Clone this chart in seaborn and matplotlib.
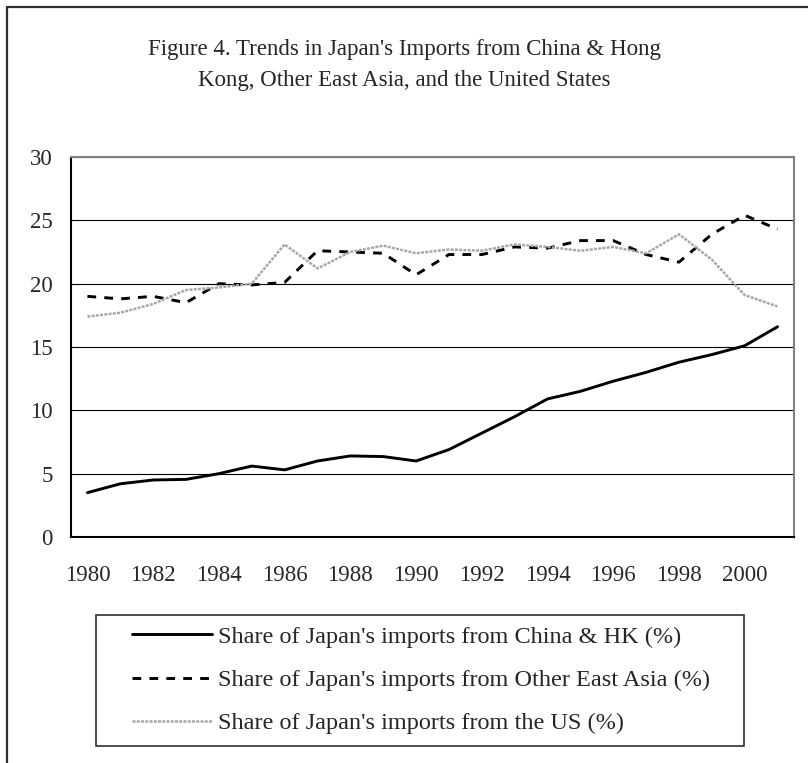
import numpy as np
import pandas as pd
import seaborn as sns
import matplotlib.pyplot as plt
from matplotlib.lines import Line2D
from matplotlib.patches import Rectangle
from matplotlib.ticker import MultipleLocator, FixedLocator

years = list(range(1980, 2002))
china_hk = [3.5, 4.2, 4.5, 4.55, 5.0, 5.6, 5.3, 6.0, 6.4, 6.35, 6.0, 6.9,
            8.2, 9.5, 10.9, 11.5, 12.3, 13.0, 13.8, 14.4, 15.1, 16.6]
other_east_asia = [19.0, 18.8, 19.0, 18.5, 20.0, 19.9, 20.1, 22.6, 22.5, 22.4, 20.7, 22.3,
                   22.3, 22.9, 22.8, 23.4, 23.4, 22.3, 21.7, 23.9, 25.4, 24.3]
united_states = [17.4, 17.7, 18.4, 19.5, 19.7, 20.0, 23.1, 21.2, 22.5, 23.0, 22.4, 22.7,
                 22.6, 23.1, 22.9, 22.6, 22.9, 22.4, 23.9, 21.9, 19.1, 18.2]
labels = [
    "Share of Japan's imports from China & HK (%)",
    "Share of Japan's imports from Other East Asia (%)",
    "Share of Japan's imports from the US (%)",
]

df = pd.DataFrame({"year": years, labels[0]: china_hk,
                   labels[1]: other_east_asia, labels[2]: united_states})
long = df.melt(id_vars="year", var_name="series", value_name="share")

sns.set_style("white")
plt.rcParams["font.family"] = ["Liberation Serif", "DejaVu Serif"]

W, H = 808, 763
fig = plt.figure(figsize=(W / 100, H / 100), dpi=100)
ax = fig.add_axes([71 / W, 1 - 537 / H, (794 - 71) / W, (537 - 157) / H])

styles = {
    labels[0]: dict(color="black", lw=2.1, ls="-"),
    labels[1]: dict(color="black", lw=2.1, ls=(0, (3, 2.8))),
    labels[2]: dict(color="#a8a8a8", lw=1.8, ls=(0, (1.2, 0.5))),
}
for name in labels:
    sub = long[long.series == name]
    sns.lineplot(data=sub, x="year", y="share", ax=ax, label=name,
                 legend=False, **styles[name])

ax.set_xlim(1979.5, 2001.5)
ax.set_ylim(0, 30)
ax.yaxis.set_major_locator(MultipleLocator(5))
ax.xaxis.set_major_locator(FixedLocator(years[::2]))
ax.xaxis.set_minor_locator(FixedLocator([y + 0.5 for y in years[:-1]]))
ax.set_xlabel("")
ax.set_ylabel("")
ax.grid(axis="y", color="black", lw=0.8)
ax.grid(axis="x", visible=False)
ax.tick_params(axis="x", which="major", length=0, pad=20, labelsize=16.5)
ax.tick_params(axis="x", which="minor", length=4, direction="in", width=0.8, color="black")
ax.tick_params(axis="y", which="major", length=0, pad=13, labelsize=16.5)
for side in ["top", "right"]:
    ax.spines[side].set_color("#808080")
    ax.spines[side].set_linewidth(1.5)
for side in ["left", "bottom"]:
    ax.spines[side].set_color("black")
    ax.spines[side].set_linewidth(1.5)

fig.text(0.5, 1 - 65 / H,
         "Figure 4. Trends in Japan's Imports from China & Hong\nKong, Other East Asia, and the United States",
         ha="center", va="center", fontsize=16.5, linespacing=1.6)

# legend box drawn separately so the padding can match
fig.add_artist(Rectangle((96 / W, 1 - 746 / H), (744 - 96) / W, (746 - 615) / H,
                         transform=fig.transFigure, facecolor="white",
                         edgecolor="#303030", lw=1.2, zorder=1))
handles = [Line2D([], [], **styles[n]) for n in labels]
leg = fig.legend(handles, labels, loc="center left",
                 bbox_to_anchor=(132 / W, 1 - 680 / H),
                 fontsize=17.5, frameon=False, handlelength=3.3,
                 handletextpad=0.25, labelspacing=0.88, borderpad=0,
                 borderaxespad=0)
leg.set_zorder(2)

# outer chart border (right and bottom fall outside the crop)
fig.add_artist(Line2D([7 / W, 7 / W], [0, 1 - 7 / H], color="#303030", lw=1.6,
                      transform=fig.transFigure))
fig.add_artist(Line2D([7 / W, 1], [1 - 7 / H, 1 - 7 / H], color="#303030", lw=1.6,
                      transform=fig.transFigure))

fig.savefig("out.png", dpi=100)
